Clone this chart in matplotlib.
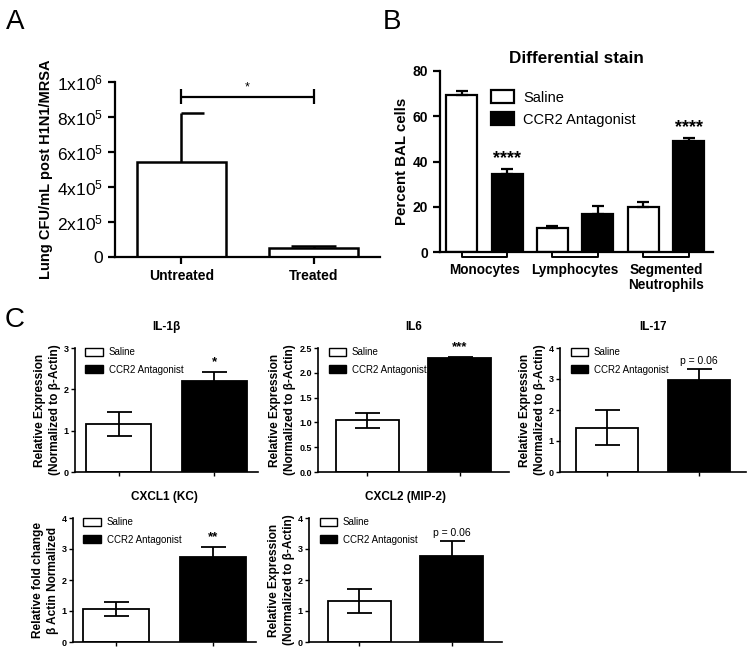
"""Figure: CFU, BAL differential stain and cytokine expression panels."""

import matplotlib.pyplot as plt
from matplotlib.patches import Patch
from matplotlib.transforms import blended_transform_factory

plt.rcParams['font.family'] = ['Liberation Sans', 'DejaVu Sans']
plt.rcParams['mathtext.default'] = 'regular'

W, H = 750, 650

# panel A data
a_groups = ["Untreated", "Treated"]
a_means = [5.45e5, 0.5e5]
a_err = [2.78e5, 0.12e5]
a_ticks = [0, 2e5, 4e5, 6e5, 8e5, 1e6]
a_ticklabels = ["0", "2x10$^5$", "4x10$^5$", "6x10$^5$", "8x10$^5$", "1x10$^6$"]

# panel B data
b_cells = ["Monocytes", "Lymphocytes", "Segmented\nNeutrophils"]
b_saline = [69.5, 10.5, 20.0]
b_saline_err = [1.5, 1.0, 2.0]
b_ccr2 = [34.5, 17.0, 49.0]
b_ccr2_err = [2.2, 3.2, 1.5]
b_stars = ["****", "", "****"]
b_ticks = [0, 20, 40, 60, 80]

# panel C data
c_titles = ["IL-1β", "IL6", "IL-17", "CXCL1 (KC)", "CXCL2 (MIP-2)"]
c_saline = [1.17, 1.04, 1.43, 1.07, 1.31]
c_saline_err = [0.29, 0.15, 0.57, 0.22, 0.39]
c_ccr2 = [2.20, 2.29, 2.98, 2.75, 2.76]
c_ccr2_err = [0.22, 0.03, 0.33, 0.32, 0.49]
c_yticks = [
    [0, 1, 2, 3],
    [0.0, 0.5, 1.0, 1.5, 2.0, 2.5],
    [0, 1, 2, 3, 4],
    [0, 1, 2, 3, 4],
    [0, 1, 2, 3, 4],
]
c_ytickfmt = ["{:.0f}", "{:.1f}", "{:.0f}", "{:.0f}", "{:.0f}"]
c_notes = ["*", "***", "p = 0.06", "**", "p = 0.06"]
c_ylabels = [
    "Relative Expression\n(Normalized to β-Actin)",
    "Relative Expression\n(Normalized to β-Actin)",
    "Relative Expression\n(Normalized to β-Actin)",
    "Relative fold change\nβ Actin Normalized",
    "Relative Expression\n(Normalized to β-Actin)",
]
legend_labels = ["Saline", "CCR2 Antagonist"]


def px_axes(fig, left, top, right, bottom):
    return fig.add_axes([left / W, 1 - bottom / H, (right - left) / W, (bottom - top) / H])


def style(ax, lw):
    for side in ("top", "right"):
        ax.spines[side].set_visible(False)
    for side in ("left", "bottom"):
        ax.spines[side].set_linewidth(lw)


fig = plt.figure(figsize=(W / 100, H / 100), dpi=100)

# ---------------- A ----------------
ax = px_axes(fig, 115, 82, 380, 257)
style(ax, 1.6)
xa = list(range(len(a_groups)))
ax.bar(xa, a_means, width=0.67, color="white", edgecolor="black", linewidth=1.8, zorder=2)
for x, m, e in zip(xa, a_means, a_err):
    ax.vlines(x, m, m + e, color="black", linewidth=1.8, zorder=1)
    ax.hlines(m + e, x - (0.17 if e < 1e5 else 0.0), x + 0.17, color="black", linewidth=1.8)
ax.set_xlim(-0.5, 1.5)
ax.set_ylim(0, 1e6)
ax.set_yticks(a_ticks)
ax.set_yticklabels(a_ticklabels, fontsize=12.5)
ax.set_xticks(xa)
ax.set_xticklabels(a_groups, fontsize=10, fontweight="bold")
ax.tick_params(width=1.6, length=5)
ax.set_ylabel("Lung CFU/mL post H1N1/MRSA", fontsize=10.5, fontweight="bold", labelpad=3)
# significance bracket
ax.hlines(0.915e6, 0, 1, color="black", linewidth=1.6, clip_on=False)
ax.vlines([0, 1], 0.875e6, 0.96e6, color="black", linewidth=1.6, clip_on=False)
ax.text(0.5, 0.935e6, "*", ha="center", va="bottom", fontsize=9)
fig.text(6 / W, 1 - 29 / H, "A", fontsize=20)

# ---------------- B ----------------
ax = px_axes(fig, 440, 71, 713, 252)
style(ax, 1.6)
xb = list(range(len(b_cells)))
off = 0.25
bw = 0.34
ax.bar([x - off for x in xb], b_saline, width=bw, color="white", edgecolor="black",
       linewidth=1.6, yerr=[[0] * 3, b_saline_err], capsize=4,
       error_kw=dict(elinewidth=1.6, capthick=1.6), label=legend_labels[0])
ax.bar([x + off for x in xb], b_ccr2, width=bw, color="black", edgecolor="black",
       linewidth=1.6, yerr=[[0] * 3, b_ccr2_err], capsize=4,
       error_kw=dict(elinewidth=1.6, capthick=1.6), label=legend_labels[1])
for x, m, e, s in zip(xb, b_ccr2, b_ccr2_err, b_stars):
    if s:
        ax.text(x + off, m + e + 0.8, s, ha="center", va="bottom", fontsize=13,
                fontweight="bold")
ax.set_xlim(-0.49, 2.52)
ax.set_ylim(0, 80)
ax.set_yticks(b_ticks)
ax.set_yticklabels([str(t) for t in b_ticks], fontsize=10, fontweight="bold")
ax.tick_params(axis="y", width=1.6, length=5)
ax.set_xticks([])
tr = blended_transform_factory(ax.transData, ax.transAxes)
for x, name in zip(xb, b_cells):
    ax.plot([x - off, x - off, x + off, x + off], [0, -0.03, -0.03, 0], color="black",
            linewidth=1.4, transform=tr, clip_on=False)
    ax.text(x, -0.06, name, transform=tr, ha="center", va="top", fontsize=9.8,
            fontweight="bold", linespacing=1.1)
ax.set_ylabel("Percent BAL cells", fontsize=10.8, fontweight="bold", labelpad=3)
ax.set_title("Differential stain", fontsize=12.3, fontweight="bold", pad=6)
ax.legend(frameon=False, loc="upper left", bbox_to_anchor=(0.15, 0.95), fontsize=10.5,
          handlelength=1.6, handleheight=1.0, labelspacing=0.5, borderpad=0.2,
          handletextpad=0.6)
fig.text(383 / W, 1 - 29 / H, "B", fontsize=20)

# ---------------- C ----------------
c_boxes = [
    (75, 348, 258, 472, -0.46),
    (318, 348, 509, 472, -0.53),
    (560, 348, 746, 472, -0.51),
    (73, 518, 256, 642, -0.44),
    (309, 518, 502, 642, -0.54),
]
for i, (l, t, r, b, x0) in enumerate(c_boxes):
    ax = px_axes(fig, l, t, r, b)
    style(ax, 1.2)
    ax.bar([0], [c_saline[i]], width=0.68, color="white", edgecolor="black", linewidth=1.3,
           yerr=[c_saline_err[i]], capsize=9, error_kw=dict(elinewidth=1.3, capthick=1.3))
    ax.bar([1], [c_ccr2[i]], width=0.68, color="black", edgecolor="black", linewidth=1.3,
           yerr=[c_ccr2_err[i]], capsize=9, error_kw=dict(elinewidth=1.3, capthick=1.3))
    top = c_yticks[i][-1]
    note = c_notes[i]
    is_p = note.startswith("p")
    ax.text(1, c_ccr2[i] + c_ccr2_err[i] + top * 0.03, note, ha="center", va="bottom",
            fontsize=7.5 if is_p else 9.5, fontweight="normal" if is_p else "bold")
    ax.set_xlim(x0, 1 - x0)
    ax.set_ylim(0, top)
    ax.set_yticks(c_yticks[i])
    ax.set_yticklabels([c_ytickfmt[i].format(v) for v in c_yticks[i]], fontsize=6.5,
                       fontweight="bold")
    ax.set_xticks([0, 1])
    ax.set_xticklabels([])
    ax.tick_params(width=1.0, length=3, pad=1.5)
    ax.set_ylabel(c_ylabels[i], fontsize=8.6, fontweight="bold", labelpad=2, linespacing=1.35)
    ax.set_title(c_titles[i], fontsize=8.5, fontweight="bold", pad=13)
    handles = [Patch(facecolor="white", edgecolor="black", linewidth=1.0),
               Patch(facecolor="black", edgecolor="black", linewidth=1.0)]
    ax.legend(handles, legend_labels, frameon=False, loc="upper left",
              bbox_to_anchor=(0.02, 1.06), fontsize=7, handlelength=1.8, handleheight=0.9,
              labelspacing=0.75, borderpad=0.2, handletextpad=0.6)
fig.text(5 / W, 1 - 327 / H, "C", fontsize=20)

fig.savefig("out.png", dpi=100)
